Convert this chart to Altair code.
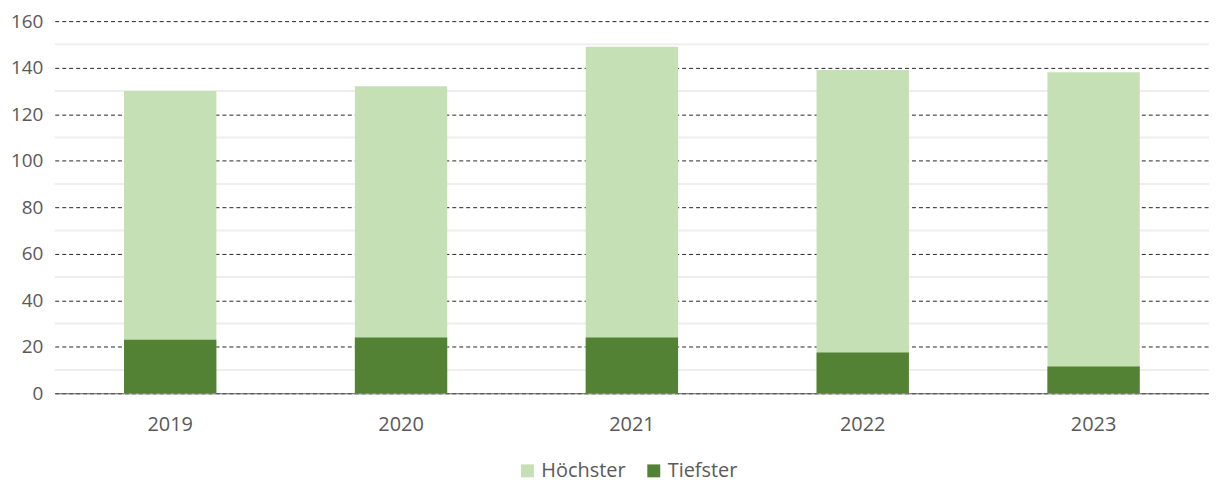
import altair as alt
import pandas as pd

years = ["2019", "2020", "2021", "2022", "2023"]
hoechster = [130, 132, 149, 139, 138]
tiefster = [23, 24, 24, 17.5, 11.5]
series_names = ["Höchster", "Tiefster"]
colors = ["#C5E0B4", "#548235"]
major_ticks = [0, 20, 40, 60, 80, 100, 120, 140, 160]
minor_ticks = [10, 30, 50, 70, 90, 110, 130, 150]

rows = []
for y, v in zip(years, hoechster):
    rows.append({"Jahr": y, "Serie": series_names[0], "Wert": v, "o": 0})
for y, v in zip(years, tiefster):
    rows.append({"Jahr": y, "Serie": series_names[1], "Wert": v, "o": 1})
df = pd.DataFrame(rows)
minor_df = pd.DataFrame({"v": minor_ticks})

FONT = "Open Sans"
GREY = "#595959"

yscale = alt.Scale(domain=[0, 160], nice=False)

minor = alt.Chart(minor_df).mark_rule(color="#EEEEEE", strokeWidth=2).encode(
    y=alt.Y("v:Q", scale=yscale)
)

bars = alt.Chart(df).mark_bar().encode(
    x=alt.X(
        "Jahr:N",
        sort=years,
        title=None,
        scale=alt.Scale(paddingInner=0.6, paddingOuter=0.3),
        axis=alt.Axis(
            labelAngle=0,
            ticks=False,
            domain=True,
            domainColor=GREY,
            domainWidth=1,
            labelColor=GREY,
            labelFont=FONT,
            labelFontSize=20,
            labelPadding=21,
            grid=False,
        ),
    ),
    y=alt.Y(
        "Wert:Q",
        stack=None,
        scale=yscale,
        title=None,
        axis=alt.Axis(
            values=major_ticks,
            ticks=False,
            domain=False,
            grid=True,
            gridColor="#262626",
            gridDash=[4, 3],
            gridWidth=1,
            labelColor=GREY,
            labelFont=FONT,
            labelFontSize=19,
            labelPadding=12,
        ),
    ),
    color=alt.Color(
        "Serie:N",
        scale=alt.Scale(domain=series_names, range=colors),
        legend=alt.Legend(
            title=None,
            orient="none",
            direction="horizontal",
            legendX=465,
            legendY=442,
            symbolType="square",
            symbolSize=169,
            symbolStrokeWidth=0,
            symbolOpacity=1,
            labelFont=FONT,
            labelFontSize=20,
            labelColor=GREY,
            labelOffset=4,
            columnPadding=18,
        ),
    ),
    order=alt.Order("o:Q"),
)

chart = (
    alt.layer(minor, bars)
    .properties(
        width=1160,
        height=374,
        autosize=alt.AutoSizeParams(type="none"),
        padding={"left": 47, "top": 12, "right": 0, "bottom": 88},
    )
    .configure_view(stroke=None)
)

chart.save("out.html", embed_options={"renderer": "svg", "actions": False})
